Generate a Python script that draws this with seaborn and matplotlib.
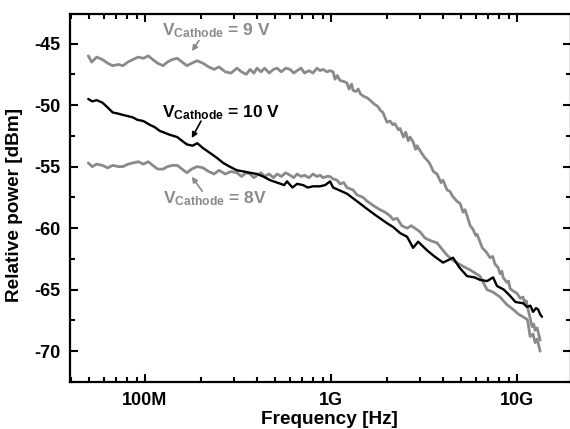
import numpy as np
import pandas as pd
import matplotlib
matplotlib.use("Agg")
import matplotlib.pyplot as plt
import matplotlib.ticker as mticker
import seaborn as sns

# ---------------- data (frequency in MHz, power in dBm) ----------------
f_9v = [49.5, 51.7, 55, 59, 63, 67, 72, 76, 81, 86, 92, 98, 104, 110, 117, 125, 132, 140,
        149, 158, 168, 178, 191, 205, 220, 235, 250, 270, 290, 312, 330, 350, 367, 385, 400,
        420, 440, 465, 490, 513, 540, 570, 602, 630, 657, 690, 720, 760, 800, 840, 873, 906,
        951, 988, 1026, 1050, 1080, 1117, 1180, 1218, 1250, 1290, 1313, 1360, 1400, 1440,
        1500, 1560, 1621, 1700, 1780, 1834, 1900, 1950, 2000, 2076, 2150, 2200, 2300, 2350,
        2450, 2520, 2600, 2661, 2763, 2850, 2900, 3009, 3100, 3200, 3300, 3406, 3550, 3713,
        3900, 4000, 4204, 4350, 4500, 4742, 4941, 5129, 5250, 5388, 5600, 5800, 6000, 6100,
        6500, 6800, 7160, 7400, 7600, 7900, 8106, 8300, 8414, 8810, 9000, 9170, 9513, 10000,
        10400, 10770, 11000, 11200, 11460, 11750, 12050, 12300, 12500, 12820, 13310]
p_9v = [-46.0, -46.5, -46.1, -46.3, -46.6, -46.8, -46.7, -46.8, -46.5, -46.3, -46.1, -46.2,
        -46.0, -46.3, -46.6, -46.8, -46.5, -46.3, -46.2, -46.5, -46.8, -46.6, -46.4, -46.6,
        -46.9, -47.1, -46.9, -47.3, -47.4, -47.0, -47.3, -47.5, -47.1, -47.4, -47.0, -47.3,
        -47.0, -47.4, -47.1, -47.0, -47.3, -47.0, -47.1, -47.4, -47.2, -47.0, -47.4, -47.2,
        -47.4, -47.0, -47.2, -47.1, -47.3, -47.2, -47.3, -47.9, -47.6, -48.0, -48.1, -48.2,
        -48.7, -48.3, -48.8, -48.9, -48.7, -49.1, -49.3, -49.4, -49.6, -49.9, -50.1, -50.4,
        -50.6, -51.0, -51.4, -51.3, -51.6, -51.5, -52.0, -51.9, -52.6, -52.2, -52.9, -52.6,
        -53.0, -53.6, -53.3, -53.7, -54.0, -54.3, -54.5, -54.8, -55.4, -55.6, -56.3, -56.1,
        -56.9, -57.0, -57.4, -57.8, -58.0, -58.7, -58.5, -59.0, -59.8, -60.1, -60.6, -60.5,
        -61.6, -61.9, -62.4, -62.3, -62.9, -63.2, -63.7, -63.5, -64.0, -64.4, -64.3, -64.9,
        -65.1, -65.3, -65.7, -65.6, -66.1, -65.9, -66.6, -67.3, -68.0, -67.8, -68.3, -68.1,
        -69.1]

f_8v = [49.5, 52, 55, 59, 63, 67, 72, 76, 81, 86, 92, 98, 104, 110, 117, 125, 132, 140, 149,
        158, 168, 178, 191, 205, 220, 235, 250, 270, 290, 312, 330, 350, 367, 385, 400, 420,
        440, 465, 490, 513, 540, 570, 602, 630, 657, 690, 720, 760, 800, 840, 873, 906, 951,
        988, 1026, 1077, 1117, 1170, 1218, 1313, 1380, 1486, 1560, 1700, 1834, 1950, 2076,
        2155, 2265, 2400, 2563, 2700, 3009, 3200, 3406, 3713, 4000, 4204, 4600, 5129, 5600,
        6320, 6897, 7430, 8106, 8800, 9513, 10200, 11320, 11460, 11750, 12190, 12500, 12820,
        13310]
p_8v = [-54.7, -55.0, -54.8, -54.9, -55.1, -54.9, -55.0, -55.0, -54.8, -54.7, -54.6, -54.8,
        -54.6, -54.9, -55.2, -55.2, -55.0, -54.9, -54.9, -55.2, -55.5, -55.2, -55.0, -55.1,
        -55.4, -55.6, -55.3, -55.6, -55.4, -55.5, -55.8, -55.5, -55.6, -55.9, -55.7, -55.5,
        -55.8, -55.6, -55.9, -55.6, -55.8, -55.5, -55.7, -55.9, -55.6, -55.8, -55.7, -55.9,
        -55.6, -55.8, -55.7, -55.9, -55.8, -55.8, -56.0, -56.1, -56.4, -56.3, -56.7, -56.9,
        -57.3, -57.5, -57.8, -58.2, -58.5, -58.7, -59.0, -59.3, -59.2, -59.8, -60.0, -59.8,
        -60.3, -60.8, -61.0, -61.2, -61.8, -62.2, -62.7, -63.1, -63.4, -63.9, -65.0, -65.2,
        -65.6, -66.2, -66.6, -67.0, -67.4, -67.7, -68.8, -68.6, -69.3, -69.0, -70.0]

f_10v = [49.5, 52, 55, 59, 63, 67, 72, 76, 81, 86, 91, 98, 106, 113, 120, 125, 135, 149, 158,
         168, 180, 191, 205, 224, 244, 263, 285, 312, 340, 367, 400, 431, 470, 513, 560, 580,
         620, 657, 707, 750, 800, 870, 930, 988, 1026, 1100, 1218, 1320, 1432, 1550, 1683,
         1834, 2000, 2155, 2350, 2563, 2763, 2938, 3281, 3600, 4000, 4529, 4900, 5388, 5900,
         6320, 6900, 7430, 7803, 8500, 9170, 9800, 10770, 11320, 11800, 12190, 12650, 12970,
         13310, 13620]
p_10v = [-49.5, -49.7, -49.6, -49.8, -50.2, -50.6, -50.7, -50.8, -50.9, -51.0, -51.2, -51.3,
         -51.6, -51.8, -52.1, -52.2, -52.4, -52.6, -52.9, -53.2, -53.3, -53.1, -53.5, -53.9,
         -54.3, -54.7, -55.0, -55.3, -55.4, -55.5, -55.6, -55.8, -56.1, -56.3, -56.5, -56.2,
         -56.7, -56.4, -56.5, -56.7, -56.6, -56.6, -56.5, -56.2, -56.7, -56.9, -57.2, -57.6,
         -58.0, -58.4, -58.8, -59.2, -59.6, -59.9, -60.4, -60.7, -61.6, -61.1, -61.8, -62.3,
         -62.8, -62.4, -63.2, -63.9, -64.0, -64.2, -64.3, -64.0, -64.7, -65.0, -65.5, -66.0,
         -66.1, -66.4, -66.3, -66.8, -66.5, -66.6, -67.0, -67.2]

x_ticks = [1e8, 1e9, 1e10]
x_tick_labels = ["100M", "1G", "10G"]
y_ticks = [-70, -65, -60, -55, -50, -45]

# ---------------- styling ----------------
sns.set_style("ticks")
plt.rcParams["font.family"] = ["Liberation Sans", "DejaVu Sans"]
plt.rcParams["font.weight"] = "bold"
plt.rcParams["axes.unicode_minus"] = False
plt.rcParams["text.color"] = "black"
plt.rcParams["axes.labelcolor"] = "black"
plt.rcParams["xtick.color"] = "black"
plt.rcParams["ytick.color"] = "black"
plt.rcParams["mathtext.fontset"] = "custom"
plt.rcParams["mathtext.rm"] = "Liberation Sans:bold"
plt.rcParams["mathtext.bf"] = "Liberation Sans:bold"
plt.rcParams["mathtext.it"] = "Liberation Sans:bold"

GRAY = "#8a8a8a"

fig = plt.figure(figsize=(5.70, 4.29), dpi=100)
ax = fig.add_axes([70 / 570, 1 - 382 / 429, 501 / 570, 368 / 429])

df9 = pd.DataFrame({"freq": np.array(f_9v) * 1e6, "power": p_9v})
df8 = pd.DataFrame({"freq": np.array(f_8v) * 1e6, "power": p_8v})
df10 = pd.DataFrame({"freq": np.array(f_10v) * 1e6, "power": p_10v})

sns.lineplot(data=df9, x="freq", y="power", ax=ax, color=GRAY, lw=2.0, estimator=None)
sns.lineplot(data=df8, x="freq", y="power", ax=ax, color=GRAY, lw=2.0, estimator=None)
sns.lineplot(data=df10, x="freq", y="power", ax=ax, color="black", lw=1.7, estimator=None)

ax.set_xscale("log")
ax.set_xlim(3.95e7, 1.95e10)
ax.set_ylim(-72.5, -42.6)

ax.xaxis.set_major_locator(mticker.FixedLocator(x_ticks))
ax.xaxis.set_major_formatter(mticker.FixedFormatter(x_tick_labels))
ax.xaxis.set_minor_locator(mticker.LogLocator(base=10, subs=np.arange(2, 10)))
ax.xaxis.set_minor_formatter(mticker.NullFormatter())
ax.yaxis.set_major_locator(mticker.FixedLocator(y_ticks))
ax.yaxis.set_minor_locator(mticker.MultipleLocator(2.5))

ax.tick_params(which="both", direction="in", top=True, right=True,
               labeltop=False, labelright=False, width=1.5, colors="black")
ax.tick_params(which="major", length=6, labelsize=13, pad=7)
ax.tick_params(which="minor", length=3.5)
for lbl in ax.get_xticklabels() + ax.get_yticklabels():
    lbl.set_fontweight("bold")

for s in ax.spines.values():
    s.set_linewidth(1.6)
    s.set_color("black")

ax.set_xlabel("Frequency [Hz]", fontsize=13.7, fontweight="bold", color="black")
ax.set_ylabel("Relative power [dBm]", fontsize=13.7, fontweight="bold", color="black")
ax.xaxis.set_label_coords(0.517, -0.08)
ax.yaxis.set_label_coords(-0.094, 0.48)

# annotations
ax.text(1.234e8, -44.33, r"$\mathregular{V_{Cathode}}$ = 9 V", color=GRAY,
        fontsize=12.5, fontweight="bold", va="baseline", ha="left")
ax.text(1.234e8, -50.98, r"$\mathregular{V_{Cathode}}$ = 10 V", color="black",
        fontsize=12.5, fontweight="bold", va="baseline", ha="left")
ax.text(1.249e8, -57.95, r"$\mathregular{V_{Cathode}}$ = 8V", color=GRAY,
        fontsize=12.5, fontweight="bold", va="baseline", ha="left")

arrow_kw = dict(arrowstyle="-|>", mutation_scale=8, lw=1.2, shrinkA=0, shrinkB=0)
ax.annotate("", xy=(1.789e8, -45.62), xytext=(1.95e8, -44.75),
            arrowprops=dict(color=GRAY, **arrow_kw))
ax.annotate("", xy=(1.783e8, -52.68), xytext=(2.0e8, -51.3),
            arrowprops=dict(color="black", **arrow_kw))
ax.annotate("", xy=(1.783e8, -55.82), xytext=(2.03e8, -57.0),
            arrowprops=dict(color=GRAY, **arrow_kw))

fig.savefig("out.png", dpi=100)
